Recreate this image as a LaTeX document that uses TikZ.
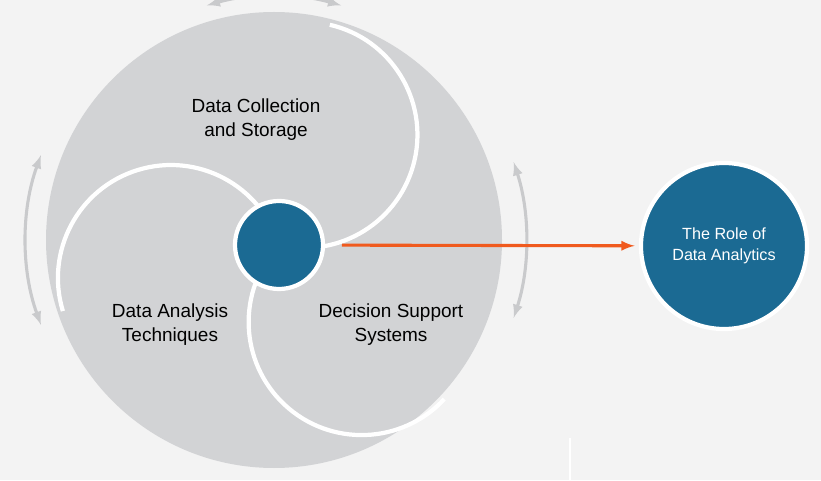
\documentclass[tikz,border=0pt]{standalone}
\usepackage{fontspec}
\setmainfont{Liberation Sans}
\definecolor{bgc}{HTML}{F3F3F3}
\definecolor{lobec}{HTML}{D2D3D5}
\definecolor{hubc}{HTML}{1B6A93}
\definecolor{arrc}{HTML}{F05A1E}
\definecolor{spinc}{HTML}{C9CACC}
\begin{document}
\begin{tikzpicture}[x=0.025cm,y=0.025cm]
\tikzset{hub style/.style={shape=circle,fill=hubc,draw=white,line width=3pt,inner sep=0pt},
         lobe text/.style={align=center,font=\fontsize{13.5}{17}\selectfont},
         spin/.style={spinc,line width=2.2pt,<->,>=latex}}
\useasboundingbox (0,0) rectangle (821,480);
\fill[bgc] (0,0) rectangle (821,480);
\coordinate (c) at (279,235);
\coordinate (d) at (274,240);

% main disc and lobe borders
\fill[lobec] (d) circle (228);
\draw[white,line width=3pt] (c) arc[start angle=77-180,end angle=77,radius=113];
\draw[white,line width=3pt] (c) arc[start angle=197-180,end angle=197,radius=113];
\draw[white,line width=3pt] (c) arc[start angle=-43-180,end angle=-43,radius=113];

% turning arrows
\draw[spin] (d) ++(160:248) arc[start angle=160,end angle=200,radius=248];
\draw[spin] (d) ++(-18:252) arc[start angle=-18,end angle=18,radius=252];
\draw[spin] (d) ++(74:244) arc[start angle=74,end angle=106,radius=244];

\node[hub style,minimum size=2.2cm] at (c) (hub) {};
\node[hub style,minimum size=4.15cm,text=white,align=center,font=\fontsize{11.5}{15}\selectfont] at (724,234) (role) {The Role of\\Data Analytics};

\node[lobe text] at (256,360) (collect) {Data Collection\\ and Storage};
\node[lobe text] at (170,155) (analysis) {Data Analysis\\Techniques};
\node[lobe text] at (391,155) (decision) {Decision Support\\Systems};

\draw[arrc,line width=2.2pt,-latex,shorten <=12pt,shorten >=3pt] (hub) -- (role);
\draw[white,line width=1.5pt] (570,42) -- (570,0);
\end{tikzpicture}
\end{document}
